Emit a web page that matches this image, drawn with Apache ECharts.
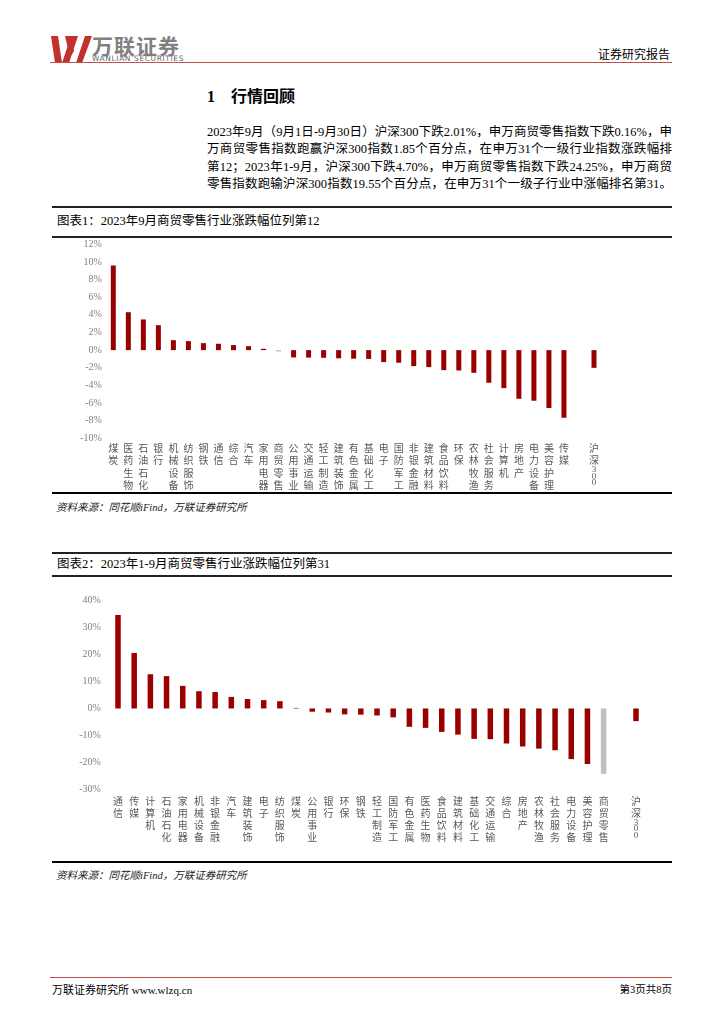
<!DOCTYPE html>
<html>
<head>
<meta charset="utf-8">
<script src="https://cdn.jsdelivr.net/npm/echarts@6/dist/echarts.min.js"></script>
<style>
  html, body { margin:0; padding:0; background:#fff; }
  body { width:724px; height:1024px; position:relative; overflow:hidden;
         font-family:"Liberation Serif","Noto Sans CJK SC",serif; color:#000; }
  .abs { position:absolute; }
  .para div { text-align:justify; text-align-last:justify; height:17.3px; line-height:17.3px; white-space:nowrap; }
  .ttl { left:52px; width:620px; border-top:2px solid #222; border-bottom:2px solid #222; font-size:12.5px; line-height:26px; padding-left:5px; box-sizing:border-box; }
  .src { left:56px; font-size:10.5px; font-style:italic; color:#222; }
  .thick { left:52px; width:620px; height:0; border-top:2.5px solid #000; }
</style>
</head>
<body>
<!-- header -->
<svg class="abs" style="left:49px;top:36px" width="44" height="27" viewBox="0 0 44 27">
  <polygon points="2,0 9,0 13,27 6,27" fill="#c0322b"/>
  <polygon points="13,27 20,27 29,0 22,0" fill="#c0322b"/>
  <polygon points="16,0 22,0 25,15 21,21" fill="#c0322b"/>
  <polygon points="27,27 33,27 43,0 36,0" fill="#c0322b"/>
</svg>
<div class="abs" style="left:92px;top:33px;font-family:'Noto Sans CJK SC';font-weight:bold;font-size:21px;color:#808080;letter-spacing:1px;line-height:24px">万联证券</div>
<div class="abs" style="left:92px;top:54px;font-family:'DejaVu Sans';font-size:7.5px;color:#666;letter-spacing:0.6px;line-height:9px">WANLIAN SECURITIES</div>
<div class="abs" style="left:50px;top:62px;width:622px;height:0;border-top:1.5px solid #c0504d"></div>
<div class="abs" style="left:598px;top:47px;font-family:'Noto Sans CJK SC';font-size:12px;line-height:14px">证券研究报告</div>

<!-- heading -->
<div class="abs" style="left:207px;top:85px;font-size:16px;font-weight:bold;line-height:20px"><span style="font-family:'Liberation Serif'">1</span><span style="margin-left:16px;font-family:'Noto Sans CJK SC'">行情回顾</span></div>

<div class="abs para" style="left:207px;top:124px;width:465px;font-size:12.5px">
  <div>2023年9月（9月1日-9月30日）沪深300下跌2.01%，申万商贸零售指数下跌0.16%，申</div>
  <div>万商贸零售指数跑赢沪深300指数1.85个百分点，在申万31个一级行业指数涨跌幅排</div>
  <div>第12；2023年1-9月，沪深300下跌4.70%，申万商贸零售指数下跌24.25%，申万商贸</div>
  <div>零售指数跑输沪深300指数19.55个百分点，在申万31个一级子行业中涨幅排名第31。</div>
</div>

<!-- chart 1 -->
<div class="abs ttl" style="top:206px;height:32px">图表1：2023年9月商贸零售行业涨跌幅位列第12</div>
<div id="c1" class="abs" style="left:52px;top:238px;width:620px;height:254px"></div>
<div class="abs thick" style="top:492px"></div>
<div class="abs src" style="top:499px">资料来源：同花顺iFind，万联证券研究所</div>

<!-- chart 2 -->
<div class="abs ttl" style="top:552px;height:25px;line-height:21px">图表2：2023年1-9月商贸零售行业涨跌幅位列第31</div>
<div id="c2" class="abs" style="left:52px;top:577px;width:620px;height:283px"></div>
<div class="abs thick" style="top:861px"></div>
<div class="abs src" style="top:867px">资料来源：同花顺iFind，万联证券研究所</div>

<!-- footer -->
<div class="abs" style="left:50px;top:977px;width:622px;height:0;border-top:1.5px solid #c0504d"></div>
<div class="abs" style="left:52px;top:982px;font-size:11px;line-height:14px"><span style="font-family:'Noto Sans CJK SC'">万联证券研究所</span> www.wlzq.cn</div>
<div class="abs" style="left:606px;top:982px;font-size:10.5px;line-height:14px;width:66px;text-align:right"><span style="font-family:'Noto Sans CJK SC'">第</span>3<span style="font-family:'Noto Sans CJK SC'">页共</span>8<span style="font-family:'Noto Sans CJK SC'">页</span></div>

<script>
// ---- Chart 1: 2023年9月 ----
const categories1 = ['煤炭','医药生物','石油石化','银行','机械设备','纺织服饰','钢铁','通信','综合','汽车','家用电器','商贸零售','公用事业','交通运输','轻工制造','建筑装饰','有色金属','基础化工','电子','国防军工','非银金融','建筑材料','食品饮料','环保','农林牧渔','社会服务','计算机','房地产','电力设备','美容护理','传媒','','沪深300'];
const values1 = [9.6,4.3,3.48,2.83,1.13,1.02,0.79,0.72,0.57,0.45,0.15,-0.16,-0.83,-0.85,-0.87,-0.93,-0.97,-1.0,-1.36,-1.43,-1.81,-1.93,-2.27,-2.31,-2.57,-3.7,-4.31,-5.52,-5.74,-6.57,-7.67,null,-2.01];

// ---- Chart 2: 2023年1-9月 ----
const categories2 = ['通信','传媒','计算机','石油石化','家用电器','机械设备','非银金融','汽车','建筑装饰','电子','纺织服饰','煤炭','公用事业','银行','环保','钢铁','轻工制造','国防军工','有色金属','医药生物','食品饮料','建筑材料','基础化工','交通运输','综合','房地产','农林牧渔','社会服务','电力设备','美容护理','商贸零售','','沪深300'];
const values2 = [34.7,20.6,12.7,12.0,8.4,6.4,6.1,4.3,3.5,3.1,2.7,0.2,-1.2,-1.5,-2.2,-2.3,-2.6,-3.3,-6.8,-7.2,-8.7,-9.7,-11.3,-11.4,-13.0,-14.1,-14.9,-15.5,-18.8,-20.6,-24.25,null,-4.70];

const highlight = '商贸零售';
const RED = '#990000', GREY = '#bfbfbf';

function vert(name) {
  if (name === '沪深300') return '沪\n深\n{d|3}\n{d|0}\n{d|0}';
  return name.split('').join('\n');
}

function makeOption(cats, vals, cfg) {
  return {
    animation: false,
    grid: cfg.grid,
    xAxis: {
      type: 'category', data: cats,
      axisLine: { show: false, onZero: false },
      axisTick: { show: false },
      axisLabel: {
        interval: 0, margin: cfg.margin, color: '#595959',
        fontFamily: 'Noto Sans CJK SC', fontSize: 10, lineHeight: cfg.lh,
        verticalAlign: 'top',
        formatter: vert,
        rich: { d: { fontFamily: 'Liberation Serif', fontSize: 9, lineHeight: 6.5, color: '#595959' } }
      }
    },
    yAxis: {
      type: 'value', min: cfg.min, max: cfg.max, interval: cfg.interval,
      axisLine: { show: false }, axisTick: { show: false }, splitLine: { show: false },
      axisLabel: { color: '#808080', fontFamily: 'Liberation Serif', fontSize: 10, margin: cfg.ymargin,
                   formatter: v => v + '%' }
    },
    series: [{
      type: 'bar', barWidth: cfg.bw,
      data: vals.map((v, i) => ({ value: v, itemStyle: { color: cats[i] === highlight ? GREY : RED } }))
    }]
  };
}

const c1 = echarts.init(document.getElementById('c1'));
c1.setOption(makeOption(categories1, values1, {
  grid: { left: 53.8, right: 70.5, top: 6.3, bottom: 53.7 },
  min: -10, max: 12, interval: 2, bw: 5, margin: 3.5, lh: 12.5, ymargin: 4
}));

const c2 = echarts.init(document.getElementById('c2'));
c2.setOption(makeOption(categories2, values2, {
  grid: { left: 57.9, right: 27.9, top: 23.7, bottom: 70.7 },
  min: -30, max: 40, interval: 10, bw: 5.5, margin: 5.7, lh: 12, ymargin: 9
}));
</script>
</body>
</html>
